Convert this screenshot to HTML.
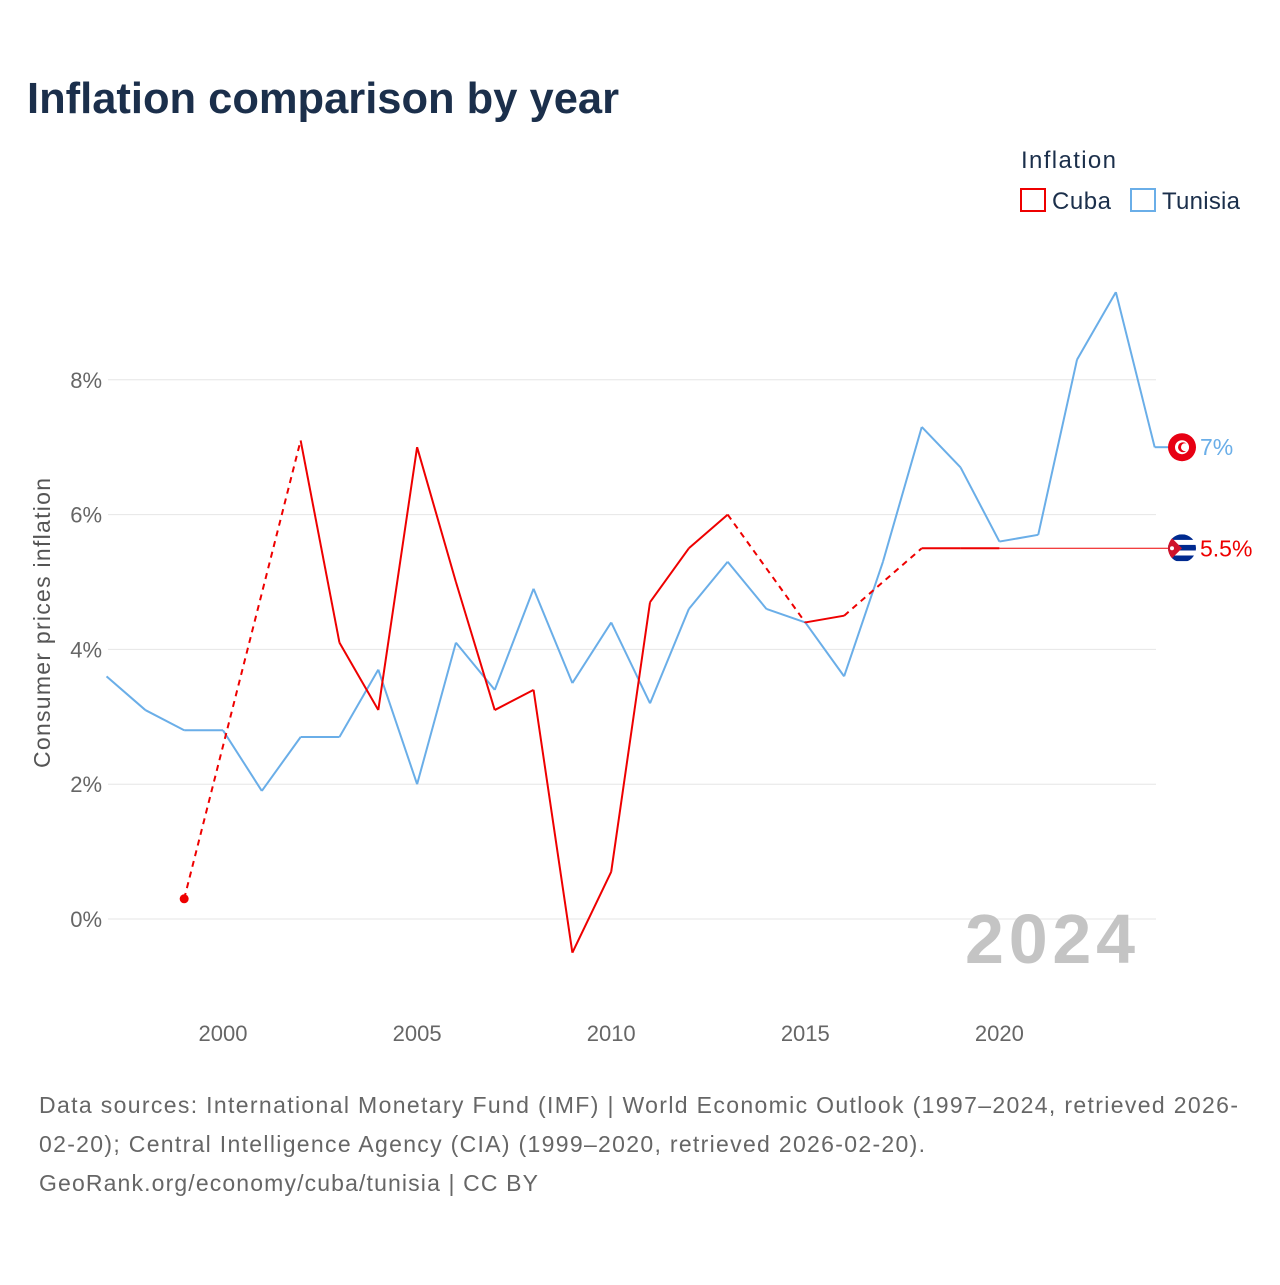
<!DOCTYPE html>
<html><head><meta charset="utf-8"><style>
body{margin:0;background:#fff;width:1280px;height:1280px;overflow:hidden;font-family:"Liberation Sans",sans-serif;}
</style></head><body>
<svg id="chart" width="1280" height="1280" xmlns="http://www.w3.org/2000/svg">
<text x="27" y="113" font-size="43.5" font-weight="bold" fill="#1b2f4b" textLength="592">Inflation comparison by year</text>
<g>
<text x="1021" y="168" font-size="24" fill="#1b2f4b" textLength="95">Inflation</text>
<g><rect x="1021" y="189" width="24" height="22" fill="none" stroke="#ee0000" stroke-width="2"/><text x="1052" y="209" font-size="24" fill="#1b2f4b" textLength="59">Cuba</text></g>
<g><rect x="1131" y="189" width="24" height="22" fill="none" stroke="#6aaee8" stroke-width="2"/><text x="1162" y="209" font-size="24" fill="#1b2f4b" textLength="78">Tunisia</text></g>
</g>
<g id="grid"></g><g id="xaxis"></g>
<text x="965" y="963" font-size="70" font-weight="bold" fill="#c4c4c4" textLength="170">2024</text>
<g id="series"></g>
<text transform="translate(50,623) rotate(-90)" text-anchor="middle" font-size="23" fill="#555" textLength="290">Consumer prices inflation</text>
<g font-size="23" fill="#666">
<text x="39" y="1113" textLength="1199">Data sources: International Monetary Fund (IMF) | World Economic Outlook (1997–2024, retrieved 2026-</text>
<text x="39" y="1152" textLength="886">02-20); Central Intelligence Agency (CIA) (1999–2020, retrieved 2026-02-20).</text>
<text x="39" y="1191" textLength="499">GeoRank.org/economy/cuba/tunisia | CC BY</text>
</g>
</svg>
<script>
const years = [1997,1998,1999,2000,2001,2002,2003,2004,2005,2006,2007,2008,2009,2010,2011,2012,2013,2014,2015,2016,2017,2018,2019,2020,2021,2022,2023,2024];
const tunisia = [3.6,3.1,2.8,2.8,1.9,2.7,2.7,3.7,2.0,4.1,3.4,4.9,3.5,4.4,3.2,4.6,5.3,4.6,4.4,3.6,5.3,7.3,6.7,5.6,5.7,8.3,9.3,7.0];
const cuba = [null,null,0.3,null,null,7.1,4.1,3.1,7.0,5.0,3.1,3.4,-0.5,0.7,4.7,5.5,6.0,null,4.4,4.5,null,5.5,5.5,5.5,null,null,null,null];
const yTicks = [0,2,4,6,8];
const xTicks = [2000,2005,2010,2015,2020];
const NS="http://www.w3.org/2000/svg";
const X = y => 223 + (y-2000)*38.82;
const Y = v => 919 - v*67.4;
function mk(tag,attrs,parent){const e=document.createElementNS(NS,tag);for(const k in attrs)e.setAttribute(k,attrs[k]);parent.appendChild(e);return e;}
const grid=document.getElementById('grid'),xa=document.getElementById('xaxis'),ser=document.getElementById('series');
yTicks.forEach(t=>{
  const l=mk('line',{x1:108,x2:1156,y1:Y(t),y2:Y(t),stroke:'#e6e6e6','stroke-width':1},grid);
  
  
  const tx=mk('text',{x:102,y:Y(t)+8,'text-anchor':'end','font-size':22,fill:'#666'},grid);
  tx.textContent=t+'%';
  
  
});
xTicks.forEach(t=>{
  const tx=mk('text',{x:X(t),y:1041,'text-anchor':'middle','font-size':22,fill:'#666'},xa);
  tx.textContent=t;
  
  
});
function draw(vals,color,name){
  let prev=null;
  vals.forEach((v,i)=>{
    if(v===null)return;
    if(prev!==null){
      const a={x1:X(years[prev]),y1:Y(vals[prev]),x2:X(years[i]),y2:Y(v),stroke:color,'stroke-width':2};
      if(i-prev>1)a['stroke-dasharray']='6,5';
      const l=mk('line',a,ser);
      
      
    }
    const isoNext=(i+1>=vals.length||vals[i+1]===null);
    if(prev===null&&isoNext){
      const c=mk('circle',{cx:X(years[i]),cy:Y(v),r:4.5,fill:color},ser);
      
      
    }
    prev=i;
  });
  return prev;
}
const lastT=draw(tunisia,'#6aaee8','tunisia');
const lastC=draw(cuba,'#ee0000','cuba');
const ext=mk('line',{x1:X(years[lastC]),y1:Y(cuba[lastC]),x2:1172,y2:Y(cuba[lastC]),stroke:'#ee0000','stroke-width':1},ser);


const tx2=mk('line',{x1:X(years[lastT]),y1:Y(tunisia[lastT]),x2:1168,y2:Y(tunisia[lastT]),stroke:'#6aaee8','stroke-width':2},ser);


const ty=Y(tunisia[lastT]), cy=Y(cuba[lastC]);
const ft=mk('g',{},ser);


mk('circle',{cx:1182,cy:ty,r:14,fill:'#e70013'},ft);
mk('circle',{cx:1182,cy:ty,r:7,fill:'#fff'},ft);
mk('circle',{cx:1183,cy:ty,r:5,fill:'#e70013'},ft);
mk('circle',{cx:1185,cy:ty,r:4,fill:'#fff'},ft);
const fc=mk('g',{},ser);


const cp=mk('clipPath',{id:'cc'},fc);
mk('circle',{cx:1182,cy:cy,r:14},cp);
const gc=mk('g',{'clip-path':'url(#cc)'},fc);
mk('rect',{x:1168,y:cy-14,width:28,height:28,fill:'#fff'},gc);
[-14,-3.4,7.2].forEach(o=>mk('rect',{x:1168,y:cy+o,width:28,height:5.6,fill:'#002a8f'},gc));
mk('polygon',{points:`1168,${cy-14} 1182,${cy} 1168,${cy+14}`,fill:'#cf142b'},gc);
mk('circle',{cx:1172,cy:cy,r:2,fill:'#fff'},gc);
const lt=mk('text',{x:1200,y:ty+8,'font-size':23,fill:'#6aaee8'},ser);
lt.textContent=tunisia[lastT]+'%';


const lc=mk('text',{x:1200,y:cy+8,'font-size':23,fill:'#ee0000'},ser);
lc.textContent=cuba[lastC]+'%';


</script>
</body></html>
